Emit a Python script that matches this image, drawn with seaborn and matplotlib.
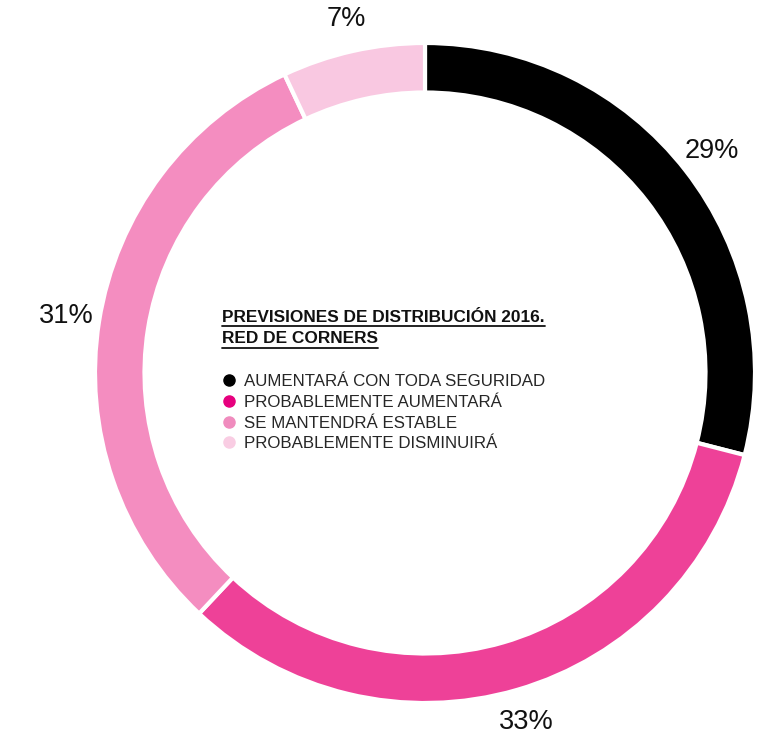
import matplotlib.pyplot as plt
import seaborn as sns
from matplotlib.lines import Line2D

# Data
categories = ['AUMENTARÁ CON TODA SEGURIDAD', 'PROBABLEMENTE AUMENTARÁ',
              'SE MANTENDRÁ ESTABLE', 'PROBABLEMENTE DISMINUIRÁ']
values = [29, 33, 31, 7]
title_lines = ['PREVISIONES DE DISTRIBUCIÓN 2016.', 'RED DE CORNERS']

slice_colors = ['#000000', '#ee4198', '#f48dc0', '#f9c8e1']
legend_colors = ['#000000', '#e6007e', '#f08cbe', '#f9cde3']

sns.set_theme(style='white')
plt.rcParams['font.family'] = ['Liberation Sans', 'DejaVu Sans']

fig = plt.figure(figsize=(7.69, 7.34), dpi=100)
# square axes centred on the ring, radius 1 ~ 330 px
ax = fig.add_axes([62 / 769, -2 / 734, 726 / 769, 726 / 734])

wedges, texts = ax.pie(values, colors=slice_colors, startangle=90, counterclock=False,
                       labels=[f'{v}%' for v in values], labeldistance=1.1,
                       wedgeprops=dict(width=0.15, edgecolor='white', linewidth=3),
                       textprops=dict(fontsize=19.5, color='#111111'))
for t in texts:
    t.set_ha('center')
    t.set_va('center')
ax.set_xlim(-1.1, 1.1)
ax.set_ylim(-1.1, 1.1)
ax.set_aspect('equal')
ax.axis('off')

# Title inside the ring, bold + underlined
x0 = 222 / 769
baselines = [322, 343]
fig.canvas.draw()
renderer = fig.canvas.get_renderer()
for line, yb in zip(title_lines, baselines):
    t = fig.text(x0, 1 - yb / 734, line, fontsize=12.45, fontweight='bold',
                 color='#111111', va='baseline', ha='left')
    bb = t.get_window_extent(renderer=renderer)
    yu = 1 - (yb + 4.5) / 734
    fig.add_artist(Line2D([bb.x0 / 769, bb.x1 / 769], [yu, yu],
                          transform=fig.transFigure, color='#111111', lw=1.3))

handles = [Line2D([0], [0], marker='o', linestyle='none', markersize=8,
                  markerfacecolor=c, markeredgecolor=c) for c in legend_colors]
fig.legend(handles, categories, loc='upper left', bbox_to_anchor=(0.29, 0.49),
           frameon=False, fontsize=12.2, borderpad=0, handlelength=0.7,
           handletextpad=0.55, labelspacing=0.33, borderaxespad=0)

fig.savefig('out.png', dpi=100)
